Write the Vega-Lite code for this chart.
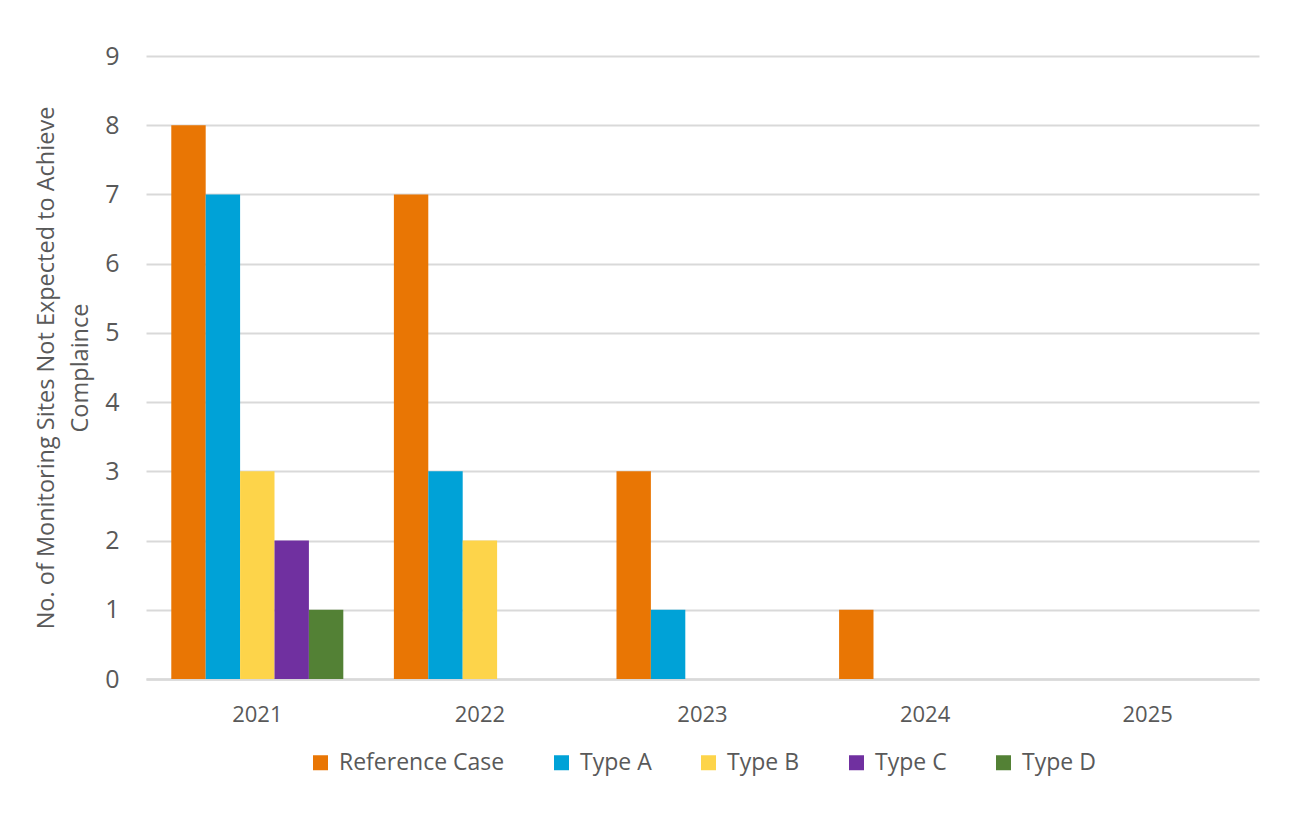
{
  "$schema": "https://vega.github.io/schema/vega-lite/v6.json",
  "autosize": "none",
  "width": 1113,
  "height": 623,
  "padding": {"left": 146, "top": 56, "right": 40, "bottom": 140},
  "background": "white",
  "config": {
    "font": "Open Sans",
    "view": {"stroke": null},
    "axis": {"labelColor": "#595959", "titleColor": "#595959", "labelFont": "Open Sans", "titleFont": "Open Sans"},
    "legend": {
      "labelColor": "#595959",
      "labelFont": "Open Sans",
      "layout": {"bottom": {"anchor": "middle"}}
    }
  },
  "data": {
    "values": [
      {"year": "2021", "scenario": "Reference Case", "sites": 8},
      {"year": "2021", "scenario": "Type A", "sites": 7},
      {"year": "2021", "scenario": "Type B", "sites": 3},
      {"year": "2021", "scenario": "Type C", "sites": 2},
      {"year": "2021", "scenario": "Type D", "sites": 1},
      {"year": "2022", "scenario": "Reference Case", "sites": 7},
      {"year": "2022", "scenario": "Type A", "sites": 3},
      {"year": "2022", "scenario": "Type B", "sites": 2},
      {"year": "2023", "scenario": "Reference Case", "sites": 3},
      {"year": "2023", "scenario": "Type A", "sites": 1},
      {"year": "2024", "scenario": "Reference Case", "sites": 1}
    ]
  },
  "mark": {"type": "bar"},
  "encoding": {
    "x": {
      "field": "year",
      "type": "nominal",
      "scale": {"domain": ["2021", "2022", "2023", "2024", "2025"], "paddingInner": 0, "paddingOuter": 0},
      "axis": {
        "title": null,
        "labelAngle": 0,
        "labelFontSize": 22,
        "labelPadding": 25,
        "ticks": false,
        "domainColor": "#d9d9d9",
        "domainWidth": 2.5,
        "grid": false
      }
    },
    "xOffset": {
      "field": "scenario",
      "type": "nominal",
      "scale": {"domain": ["Reference Case", "Type A", "Type B", "Type C", "Type D"], "paddingInner": 0, "paddingOuter": 0.735}
    },
    "y": {
      "field": "sites",
      "type": "quantitative",
      "scale": {"domain": [0, 9], "nice": false},
      "axis": {
        "title": ["No. of Monitoring Sites Not Expected to Achieve", "Complaince"],
        "titleFontSize": 23.5,
        "titleFontWeight": "normal",
        "titleLineHeight": 34,
        "titlePadding": 12,
        "values": [0, 1, 2, 3, 4, 5, 6, 7, 8, 9],
        "labelFontSize": 25,
        "labelPadding": 27,
        "ticks": false,
        "domain": false,
        "gridColor": "#d9d9d9",
        "gridWidth": 2
      }
    },
    "color": {
      "field": "scenario",
      "type": "nominal",
      "scale": {
        "domain": ["Reference Case", "Type A", "Type B", "Type C", "Type D"],
        "range": ["#E97604", "#00A2D7", "#FDD44A", "#7030A0", "#538135"]
      },
      "legend": {
        "title": null,
        "orient": "bottom",
        "direction": "horizontal",
        "symbolType": "square",
        "symbolSize": 225,
        "symbolStrokeWidth": 0,
        "labelFontSize": 23,
        "labelLimit": 400,
        "labelOffset": 7,
        "columnPadding": 45,
        "offset": 26
      }
    }
  }
}
